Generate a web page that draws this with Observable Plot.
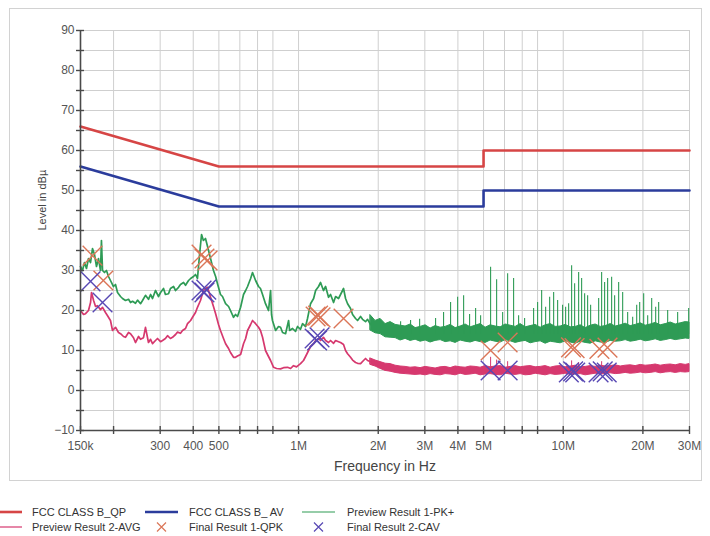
<!DOCTYPE html>
<html><head><meta charset="utf-8">
<script src="https://cdn.jsdelivr.net/npm/d3@7"></script>
<script src="https://cdn.jsdelivr.net/npm/@observablehq/plot@0.6"></script>
<style>
body{margin:0;background:#fff;font-family:"Liberation Sans",Arial,sans-serif;}
#wrap{position:relative;width:710px;height:536px;overflow:hidden;}
#frame{position:absolute;left:9px;top:8px;width:691px;height:471px;border:1px solid #d2d2d2;}
#chart{position:absolute;left:0;top:0;}
#legend{position:absolute;left:0;top:496px;width:710px;height:40px;}
</style></head><body>
<div id="wrap"><div id="frame"></div><div id="chart"></div><div id="legend"></div></div>
<script>
// ---- limit lines (frequency in MHz, level in dBµV)
const qpLimitFreq = [0.15, 0.5, 5, 5, 30];
const qpLimitLevel = [66, 56, 56, 60, 60];
const avLimitFreq = [0.15, 0.5, 5, 5, 30];
const avLimitLevel = [56, 46, 46, 50, 50];

// ---- Preview Result 1-PK+ (low-frequency trace)
const pkFreq = [0.15,0.1526,0.1553,0.158,0.1608,0.1637,0.1665,0.1694,0.1724,0.1754,0.1785,0.18,0.1817,0.1848,0.188,0.1914,0.1947,0.1998,0.2034,0.207,0.2125,0.2162,0.2219,0.2278,0.2318,0.2359,0.242,0.2464,0.2529,0.2573,0.264,0.271,0.2759,0.2807,0.288,0.2957,0.301,0.3089,0.314,0.3226,0.328,0.337,0.343,0.352,0.358,0.3677,0.374,0.384,0.391,0.401,0.408,0.415,0.4226,0.430,0.437,0.445,0.453,0.465,0.477,0.486,0.494,0.507,0.516,0.530,0.544,0.553,0.568,0.578,0.588,0.604,0.6195,0.631,0.6416,0.659,0.670,0.688,0.706,0.718,0.731,0.750,0.770,0.784,0.7906,0.797,0.819,0.840,0.855,0.870,0.893,0.917,0.925,0.949,0.974,0.991,1.017,1.035,1.063,1.081,1.110,1.140,1.160,1.190,1.211,1.242,1.265,1.298,1.321,1.356,1.380,1.416,1.441,1.479,1.505,1.532,1.572,1.600,1.642,1.671,1.715,1.745,1.791,1.823,1.871];
const pkLevel = [31,30,32,30.5,33,32,35.5,34,31,33,30,37.5,30,29.5,30,28.5,27.5,26,26.5,24.5,23.5,23,22.5,22.8,22,22.3,21.8,22.6,21.7,22.5,23.8,22.8,24,23,25,23.5,24.5,25.5,24,24.2,25.5,26,25,25.8,26.5,27,26.3,27.5,28,28.5,29,28,34,39,37.5,38,36,33,30,28.5,26.7,24,23.5,21.7,21,20,18.3,19,18.5,20.8,24,25,26,28,29.5,27.5,26,25.5,24,21.7,20,25,19,17.5,15,16,15.8,14.5,14.2,17.5,15,15.5,14.8,16,15.3,16.7,16,18,21.7,23,25,26,27,25,26,23.3,24,22,23.5,23,24,25.5,23,21.7,20.5,19,18,17.5,18.5,17.8,17.2,17.8,16.5];

// ---- Preview Result 2-AVG (low-frequency trace)
const avgFreq = [0.15,0.154,0.1567,0.1608,0.1637,0.1651,0.1681,0.171,0.1739,0.1785,0.1817,0.1864,0.1898,0.1947,0.1982,0.2034,0.2088,0.2125,0.2181,0.2219,0.2278,0.2318,0.2379,0.242,0.2486,0.2529,0.2595,0.264,0.271,0.2759,0.2807,0.288,0.2931,0.301,0.3062,0.314,0.3198,0.328,0.334,0.343,0.3489,0.358,0.3644,0.374,0.3806,0.391,0.3975,0.408,0.415,0.426,0.437,0.445,0.453,0.465,0.477,0.486,0.4984,0.507,0.5205,0.530,0.544,0.553,0.568,0.578,0.588,0.604,0.6195,0.631,0.6416,0.659,0.670,0.688,0.706,0.718,0.731,0.750,0.770,0.784,0.8046,0.8258,0.855,0.8777,0.9087,0.933,0.957,0.9827,1.017,1.044,1.063,1.091,1.110,1.140,1.160,1.190,1.211,1.242,1.265,1.298,1.321,1.356,1.380,1.416,1.441,1.479,1.505,1.532,1.572,1.600,1.642,1.671,1.715,1.760,1.791,1.823,1.871];
const avgLevel = [20,19,19.2,20,22,24.5,22.5,21,21.2,20.2,20.8,19.5,18.7,17.5,15,15.8,14.5,14.2,13.5,13.3,14.5,14.2,13.2,12,13.5,12.8,13.2,15.8,12,12.8,11.7,12.5,13,12.2,12.5,13,13.7,13,13.3,14,14.6,14.3,15,15.5,16.7,17.5,18.3,19.5,20.8,22.5,25,25.5,25.8,23.3,21,19.2,16.5,15,13,11.7,10.5,9.5,8.3,8.3,8.6,9,11.7,13,15,16.5,17.5,16.7,15.8,15,13.3,10,8.5,7.5,5.8,5.5,5.4,5.7,5.8,5.5,6.2,5.9,6.7,7.5,8.5,10,11,11.7,12.5,13,12.5,13.3,12.5,12,12.5,11.8,12.5,12.2,12,11.5,10,9.2,8.3,7.6,7,6.8,6.7,7.5,8,7.5,7.2];

// ---- high-frequency noise bands (min / max of each trace)
const bandFreq = [1.871,1.954,2.041,2.132,2.227,2.326,2.429,2.537,2.650,2.768,2.891,3.020,3.154,3.294,3.441,3.594,3.754,3.921,4.095,4.277,4.467,4.666,4.873,5.090,5.316,5.553,5.800,6.058,6.327,6.609,6.902,7.209,7.530,7.865,8.215,8.580,8.962,9.360,9.777,10.212,10.666,11.140,11.636,12.153,12.694,13.258,13.848,14.464,15.107,15.779,16.481,17.214,17.980,18.780,19.615,20.488,21.399,22.351,23.345,24.384,25.468,26.601,27.784,29.020,30];
const pkBandHi = [18.8,17.4,17.9,16.6,17.1,16.4,16.2,16.0,16.5,15.6,15.9,16.3,15.5,16.1,15.7,15.9,16.4,15.6,16.0,16.5,15.8,16.2,16.6,15.7,16.3,16.0,15.8,16.5,16.2,15.9,16.6,15.8,16.1,16.4,15.7,16.3,16.6,15.9,16.0,16.4,15.8,15.9,16.3,15.6,16.2,16.5,15.9,16.1,16.6,16.0,16.3,16.7,16.1,16.4,16.8,16.2,16.5,16.9,16.3,16.6,17.0,16.5,16.8,17.1,17.0];
const pkBandLo = [15.0,14.3,14.1,13.3,13.2,13.1,12.5,12.9,12.4,12.7,12.2,12.5,12.0,12.4,12.6,12.1,12.3,11.9,12.5,12.2,12.0,12.4,12.1,11.9,12.5,12.2,12.0,12.6,12.3,11.9,12.2,12.4,11.8,12.1,12.3,11.7,12.2,12.0,11.8,12.3,12.0,11.7,12.2,11.9,11.7,12.3,12.0,11.9,12.4,12.2,12.3,12.6,12.2,12.4,12.7,12.3,12.5,12.8,12.4,12.6,12.9,12.6,12.8,13.0,12.9];
const avgBandHi = [8.0,7.5,7.1,6.7,6.6,6.2,6.0,5.9,5.7,5.8,5.6,5.9,5.7,5.5,5.8,5.9,5.6,6.0,5.8,5.7,6.0,5.9,5.7,6.1,5.8,6.0,6.1,5.7,5.9,6.1,5.8,6.0,6.1,5.8,5.9,6.1,5.7,6.0,6.1,5.8,6.0,6.2,5.8,5.9,6.1,5.9,6.2,6.0,6.1,6.3,6.0,6.2,6.3,6.1,6.4,6.2,6.3,6.5,6.2,6.4,6.5,6.3,6.6,6.4,6.6];
const avgBandLo = [6.4,6.0,5.4,4.9,4.7,4.4,4.2,4.1,4.0,3.9,4.0,3.8,4.1,3.9,3.8,4.1,4.0,3.8,4.2,3.9,4.0,4.2,3.8,4.0,4.1,3.9,3.8,4.2,4.0,3.9,4.1,3.8,3.9,4.2,4.0,3.8,4.1,3.9,4.0,4.2,3.9,4.0,4.1,3.8,4.0,4.2,4.0,4.1,4.3,4.1,4.2,4.4,4.2,4.3,4.5,4.3,4.4,4.6,4.3,4.5,4.6,4.4,4.6,4.5,4.6];

// ---- narrow-band spikes of the PK+ trace
const pkSpikeFreq = [2.43,2.65,2.867,3.294,3.531,3.753,3.99,4.204,4.428,4.666,4.874,5.316,5.602,5.903,6.165,6.494,6.783,7.146,7.728,8.002,8.288,8.581,8.886,9.2,9.525,9.945,10.212,10.482,10.758,11.043,11.435,11.736,12.047,12.365,12.692,13.611,13.967,14.335,14.715,15.237,15.64,16.197,16.772,17.516,18.298,18.95,19.45,20.136,20.85,21.59,22.353,22.94,24.81,27.06,29.78];
const pkSpikeLevel = [17.2,17.5,17.8,18,19.5,22,23.3,23.7,19,20.5,18.7,30.8,27.7,19.5,29.2,28,18.7,18,20.5,22,25,20.8,23.3,24.5,22.5,21.3,20.8,21.7,31.2,26.7,29.5,28,24.2,23.7,21.3,23,29.5,27,28,28.3,23.7,27,24.5,19.5,18.3,21.3,22,24.2,18.7,23,20.8,22,20,19.5,20.5];
const avgSpikeFreq = [5.316,5.602,6.165,10.758,11.435,13.967];
const avgSpikeLevel = [8.3,7.6,7.2,7.4,7.0,7.2];

// ---- final measurements
const qpkFreq = [0.1665,0.183,0.430,0.441,0.453,1.160,1.185,1.211,1.479,5.316,6.165,10.70,11.04,13.70,14.70];
const qpkLevel = [33.7,27.5,34,33,32.5,18.5,18.7,18.3,18,10,12,10.8,10.6,10.4,10.7];
const cavFreq = [0.1637,0.1817,0.430,0.441,0.448,1.150,1.175,1.200,5.316,6.165,10.50,10.90,11.10,13.60,14.10,14.60];
const cavLevel = [27.3,22,25,24.5,25.2,13,12.5,13.3,5,5,4.5,4.8,4.5,4.5,4.8,4.5];

// ---- axes
const xGridValues = [0.2,0.3,0.4,0.5,0.6,0.7,0.8,1,2,3,4,5,6,7,8,10,20,30];
const xTickValues = [0.15,0.2,0.3,0.4,0.5,0.6,0.7,0.8,1,2,3,4,5,6,7,8,10,20,30];
const xLabelValues = [0.15,0.3,0.4,0.5,0.8,1,2,3,4,5,6,8,10,20,30];
const xLabelText = ["150k","300","400","500","800","1M","2M","3M","4M","5M","6","8","10M","20M","30M"];
const yGridValues = [-5,0,5,10,15,20,25,30,35,40,45,50,55,60,65,70,75,80,85,90];
const yTickValues = [-10,-5,0,5,10,15,20,25,30,35,40,45,50,55,60,65,70,75,80,85,90];
const yLabelValues = [-10,0,10,20,30,40,50,60,70,80,90];

const C = {qp:"#d64545", av:"#2b3c9c", pk:"#2e9b55", avg:"#d6386e", qpk:"#db7658", cav:"#5848b4", grid:"#cfcfcf", axis:"#4a4a4a"};

const rows = (xs, ...ys) => xs.map((x, i) => ({x, ...Object.fromEntries(ys.map((a, k) => ["v" + k, a[i]]))}));
const qpRows = rows(qpLimitFreq, qpLimitLevel);
const avRows = rows(avLimitFreq, avLimitLevel);
const pkRows = rows(pkFreq, pkLevel);
const avgRows = rows(avgFreq, avgLevel);
const pkBand = rows(bandFreq, pkBandLo, pkBandHi);
const avgBand = rows(bandFreq, avgBandLo, avgBandHi);
const pkSpikes = rows(pkSpikeFreq, pkSpikeLevel);
const avgSpikes = rows(avgSpikeFreq, avgSpikeLevel);
const qpkRows = rows(qpkFreq, qpkLevel);
const cavRows = rows(cavFreq, cavLevel);
const labelMap = new Map(xLabelValues.map((v, i) => [v, xLabelText[i]]));

const chart = Plot.plot({
  width: 710, height: 490,
  marginLeft: 80, marginRight: 21, marginTop: 30, marginBottom: 60,
  x: {type: "log", domain: [0.15, 30]},
  y: {domain: [-10, 90]},
  style: {fontFamily: "'Liberation Sans', Arial, sans-serif", fontSize: "12px", color: "#555", background: "transparent"},
  marks: [
    Plot.ruleX(xGridValues, {stroke: C.grid, strokeWidth: 1}),
    Plot.ruleY(yGridValues, {stroke: C.grid, strokeWidth: 1}),
    Plot.line(qpRows, {x: "x", y: "v0", stroke: C.qp, strokeWidth: 2.6}),
    Plot.line(avRows, {x: "x", y: "v0", stroke: C.av, strokeWidth: 2.6}),
    Plot.areaY(avgBand, {x: "x", y1: "v0", y2: "v1", fill: C.avg, stroke: C.avg, strokeWidth: 1}),
    Plot.ruleX(avgSpikes, {x: "x", y1: 5, y2: "v0", stroke: C.avg, strokeWidth: 1}),
    Plot.line(avgRows, {x: "x", y: "v0", stroke: C.avg, strokeWidth: 1.7}),
    Plot.areaY(pkBand, {x: "x", y1: "v0", y2: "v1", fill: C.pk, stroke: C.pk, strokeWidth: 1}),
    Plot.ruleX(pkSpikes, {x: "x", y1: 14, y2: "v0", stroke: C.pk, strokeWidth: 1.1}),
    Plot.line(pkRows, {x: "x", y: "v0", stroke: C.pk, strokeWidth: 1.7}),
    Plot.dot(qpkRows, {x: "x", y: "v0", symbol: "times", r: 9, stroke: C.qpk, strokeWidth: 1.4}),
    Plot.dot(cavRows, {x: "x", y: "v0", symbol: "times", r: 9, stroke: C.cav, strokeWidth: 1.4}),
    Plot.ruleX([0.15], {stroke: C.axis, strokeWidth: 1.6}),
    Plot.ruleY([-10], {stroke: C.axis, strokeWidth: 1.6}),
    Plot.ruleX(xTickValues, {y1: -11, y2: -9, stroke: C.axis, strokeWidth: 1.4}),
    Plot.ruleY(yTickValues, {x1: 0.1449, x2: 0.1553, stroke: C.axis, strokeWidth: 1.4}),
    Plot.axisX({ticks: xLabelValues, tickFormat: d => labelMap.get(d), tickSize: 0, tickPadding: 11, label: null, fill: "#555"}),
    Plot.axisY({ticks: yLabelValues, tickSize: 0, tickPadding: 6, label: null, fill: "#555"}),
    Plot.text(["Frequency in Hz"], {frameAnchor: "bottom", dy: 40, fontSize: 14, fill: "#444"}),
    Plot.text(["Level in dBµ"], {frameAnchor: "left", dx: -38, rotate: -90, fontSize: 11, fill: "#444"})
  ]
});
document.getElementById("chart").appendChild(chart);

// ---- legend
const legendItems = [
  {label: "FCC CLASS B_QP", kind: "line", color: C.qp, w: 2.6, col: 0, row: 0},
  {label: "Preview Result 2-AVG", kind: "line", color: C.avg, w: 1.2, col: 0, row: 1},
  {label: "FCC CLASS B_ AV", kind: "line", color: C.av, w: 2.6, col: 1, row: 0},
  {label: "Final Result 1-QPK", kind: "x", color: C.qpk, col: 1, row: 1},
  {label: "Preview Result 1-PK+", kind: "line", color: C.pk, w: 1.2, col: 2, row: 0},
  {label: "Final Result 2-CAV", kind: "x", color: C.cav, col: 2, row: 1}
];
const colX = [{s0: 0, s1: 22, t: 32}, {s0: 145, s1: 178, t: 189}, {s0: 302, s1: 335, t: 347}];
const svg = d3.select("#legend").append("svg").attr("width", 710).attr("height", 40)
  .style("font-family", "'Liberation Sans', Arial, sans-serif").style("font-size", "11px");
legendItems.forEach(it => {
  const c = colX[it.col], y = 16 + it.row * 15;
  if (it.kind === "line") {
    svg.append("line").attr("x1", c.s0).attr("x2", c.s1).attr("y1", y).attr("y2", y)
      .attr("stroke", it.color).attr("stroke-width", it.w);
  } else {
    const cx = (c.s0 + c.s1) / 2;
    svg.append("path").attr("d", `M${cx-4.5},${y-4.5}L${cx+4.5},${y+4.5}M${cx-4.5},${y+4.5}L${cx+4.5},${y-4.5}`)
      .attr("stroke", it.color).attr("stroke-width", 1.2).attr("fill", "none");
  }
  svg.append("text").attr("x", c.t).attr("y", y).attr("dy", "0.35em").attr("fill", "#333").text(it.label);
});
</script>
</body></html>
